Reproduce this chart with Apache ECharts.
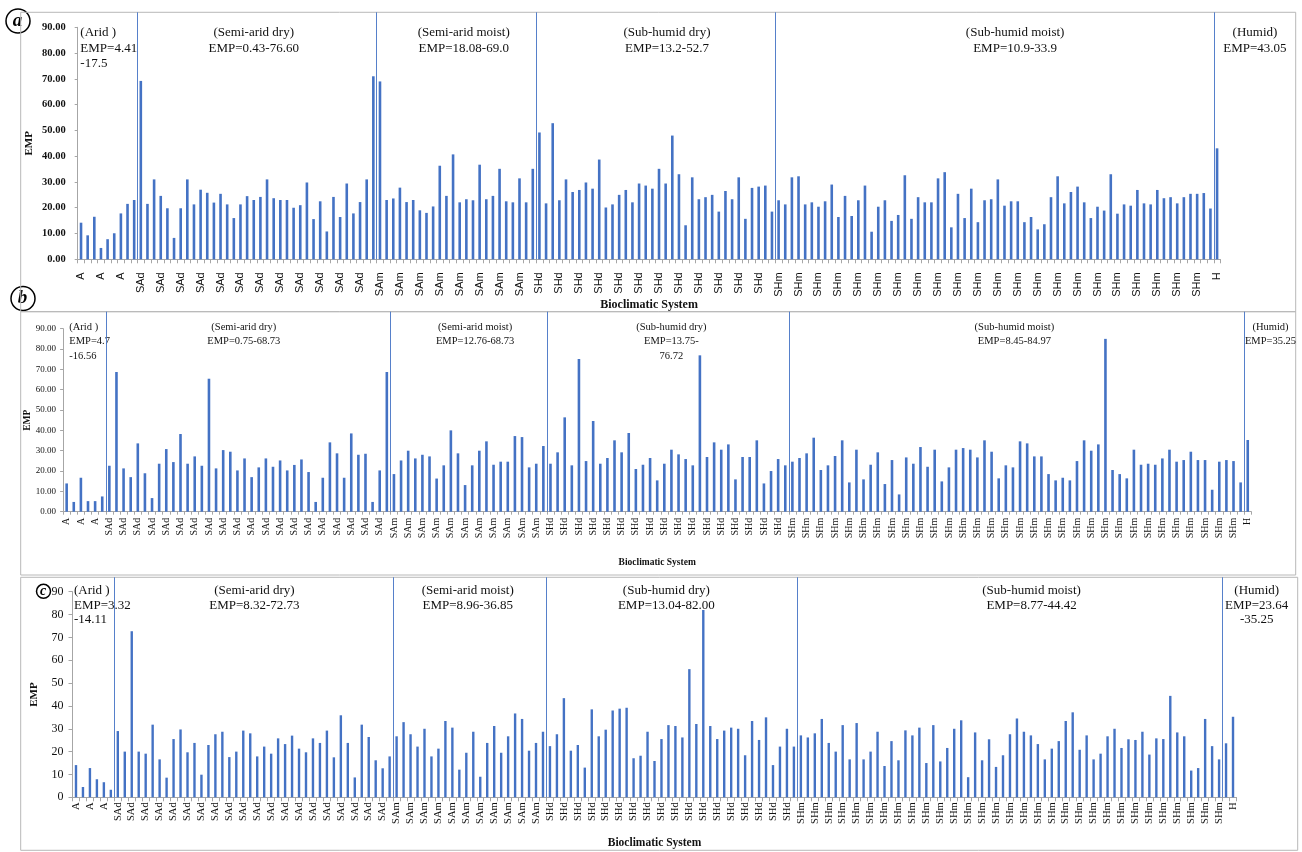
<!DOCTYPE html>
<html><head><meta charset="utf-8">
<script src="https://cdn.jsdelivr.net/npm/echarts@6/dist/echarts.min.js"></script>
<style>html,body{margin:0;padding:0;background:#fff}#c{width:1302px;height:852px}</style>
</head><body><div id="c"></div>
<script>
// ---------- DATA ----------
const groupsA = [['A',9],['SAd',36],['SAm',24],['SHd',36],['SHm',66],['H',1]];
const groupsB = [['A',6],['SAd',40],['SAm',22],['SHd',34],['SHm',64],['H',1]];
const groupsC = [['A',6],['SAd',40],['SAm',22],['SHd',36],['SHm',61],['H',2]];

const valuesA = [
  14.2, 9.3, 16.5, 4.4, 7.8, 10.1, 17.8, 21.5, 23.0,
  69.2, 21.5, 31.0, 24.6, 19.8, 8.3, 19.8, 31.0, 21.3, 27.0, 25.8, 22.0, 25.4, 21.3, 16.0, 21.3, 24.5, 23.0,
  24.2, 31.0, 23.7, 23.0, 23.0, 20.0, 21.0, 29.8, 15.6, 22.5, 10.8, 24.2, 16.4, 29.4, 17.8, 22.2, 31.0, 71.0,
  69.0, 23.0, 23.6, 27.8, 22.2, 23.0, 19.0, 18.0, 20.5, 36.3, 24.6, 40.7, 22.1, 23.3, 22.9, 36.7, 23.3, 24.6,
  35.1, 22.5, 22.1, 31.4, 22.1, 35.1,
  49.2, 21.7, 52.8, 22.9, 31.0, 26.1, 26.9, 29.8, 27.4, 38.7, 20.1, 21.3, 25.0, 26.9, 22.1, 29.4, 28.6, 27.4,
  35.1, 29.4, 48.0, 33.0, 13.2, 31.8, 23.3, 24.1, 25.0, 18.5, 26.5, 23.3, 31.8, 15.7, 27.7, 28.2, 28.6, 18.5,
  22.9, 21.3, 31.8, 32.2, 21.3, 22.1, 20.4, 22.5, 29.0, 16.4, 24.6, 16.8, 22.9, 28.6, 10.7, 20.4, 22.9, 14.9,
  17.2, 32.6, 15.7, 24.1, 22.1, 22.1, 31.4, 33.8, 12.4, 25.4, 16.0, 27.4, 14.4, 22.9, 23.3, 31.0, 20.8, 22.5,
  22.5, 14.4, 16.4, 11.6, 13.6, 24.1, 32.2, 21.7, 26.1, 28.2, 22.1, 16.0, 20.4, 18.9, 33.0, 17.7, 21.3, 20.8,
  26.9, 21.7, 21.3, 26.9, 23.7, 24.1, 21.7, 24.1, 25.4, 25.4, 25.7, 19.7,
  43.05
];
const valuesB = [
  13.9, 4.8, 16.7, 5.2, 5.2, 7.5,
  22.6, 68.7, 21.3, 17.0, 33.6, 18.9, 6.7, 23.6, 30.8, 24.4, 38.2, 23.6, 27.2, 22.6, 65.4, 21.3, 30.3, 29.5,
  20.3, 26.2, 17.0, 21.8, 26.2, 22.1, 25.2, 20.3, 23.0, 25.7, 19.5, 4.8, 16.7, 34.1, 28.7, 16.7, 38.5, 28.0,
  28.5, 4.8, 20.3, 68.7,
  18.5, 25.2, 30.0, 26.2, 28.0, 27.2, 16.3, 22.8, 40.0, 28.7, 13.1, 22.8, 30.0, 34.6, 23.1, 24.6, 24.6, 37.2,
  36.7, 21.8, 23.6, 32.3,
  23.6, 29.2, 46.4, 22.8, 75.1, 24.9, 44.6, 23.6, 26.4, 35.1, 29.2, 38.7, 21.0, 23.1, 26.4, 15.4, 23.6, 30.5,
  28.2, 25.9, 22.8, 76.9, 26.9, 34.1, 30.5, 33.1, 15.9, 26.9, 26.9, 35.1, 13.9, 20.0, 25.9, 22.8,
  24.6, 26.4, 28.7, 36.4, 20.5, 22.8, 27.4, 35.1, 14.4, 30.5, 15.9, 23.1, 29.2, 13.6, 25.4, 8.5, 26.7, 23.6,
  31.8, 22.1, 30.5, 14.9, 21.8, 30.5, 31.3, 30.5, 26.7, 35.1, 29.5, 16.4, 22.8, 21.8, 34.6, 33.6, 27.2, 27.2,
  18.5, 15.4, 16.7, 15.4, 24.9, 35.1, 30.0, 33.1, 85.0, 20.5, 18.5, 16.4, 30.5, 23.1, 23.6, 23.1, 26.2, 30.5,
  24.6, 25.4, 29.5, 25.4, 25.4, 10.8, 24.6, 25.4, 24.9, 14.4,
  35.25
];
const valuesC = [
  14.1, 4.5, 12.8, 7.9, 6.6, 3.3,
  29.0, 20.0, 72.7, 20.0, 19.1, 31.8, 16.6, 8.6, 25.5, 29.7, 19.7, 23.8, 9.9, 22.9, 27.6, 28.7, 17.6, 20.0,
  29.2, 28.0, 17.9, 22.2, 19.1, 25.8, 23.3, 27.0, 21.3, 19.7, 25.8, 23.8, 29.2, 17.5, 35.9, 23.8, 8.7, 31.8,
  26.4, 16.2, 12.7, 17.9,
  26.7, 32.9, 27.6, 22.2, 30.0, 17.9, 21.3, 33.4, 30.5, 12.1, 19.5, 28.7, 9.0, 23.8, 31.2, 19.5, 26.7, 36.7,
  34.3, 20.4, 23.8, 28.7,
  22.4, 27.6, 43.4, 20.4, 22.9, 13.0, 38.5, 26.7, 29.6, 38.0, 38.8, 39.2, 17.1, 18.2, 28.7, 15.9, 25.5, 31.6,
  31.2, 26.2, 56.1, 32.1, 82.0, 31.2, 25.5, 29.2, 30.5, 30.0, 18.4, 33.4, 25.1, 35.0, 14.1, 22.2, 30.0, 22.2,
  27.1, 26.2, 28.0, 34.3, 23.8, 20.0, 31.6, 16.6, 32.5, 16.6, 20.0, 28.7, 13.7, 24.6, 16.2, 29.3, 27.1, 30.5,
  15.0, 31.6, 15.7, 21.6, 30.0, 33.7, 8.8, 28.4, 16.2, 25.4, 13.3, 18.4, 27.6, 34.5, 28.7, 27.1, 23.3, 16.6,
  21.3, 24.6, 33.4, 37.2, 20.8, 27.1, 16.6, 19.1, 26.7, 30.0, 21.6, 25.4, 25.1, 28.7, 18.7, 25.8, 25.5, 44.4,
  28.4, 26.7, 11.7, 12.8, 34.3, 22.4, 16.6,
  23.64, 35.25
];

const notesA = ['(Arid )\nEMP=4.41\n-17.5', '(Semi-arid dry)\nEMP=0.43-76.60', '(Semi-arid moist)\nEMP=18.08-69.0',
  '(Sub-humid dry)\nEMP=13.2-52.7', '(Sub-humid moist)\nEMP=10.9-33.9', '(Humid)\nEMP=43.05'];
const notesB = ['(Arid )\nEMP=4.7\n-16.56', '(Semi-arid dry)\nEMP=0.75-68.73', '(Semi-arid moist)\nEMP=12.76-68.73',
  '(Sub-humid dry)\nEMP=13.75-\n76.72', '(Sub-humid moist)\nEMP=8.45-84.97', '(Humid)\nEMP=35.25'];
const notesC = ['(Arid )\nEMP=3.32\n-14.11', '(Semi-arid dry)\nEMP=8.32-72.73', '(Semi-arid moist)\nEMP=8.96-36.85',
  '(Sub-humid dry)\nEMP=13.04-82.00', '(Sub-humid moist)\nEMP=8.77-44.42', '(Humid)\nEMP=23.64\n-35.25'];

const yTicksAB = { min: 0, max: 90, interval: 10 };
const xTitle = 'Bioclimatic System';
const yTitle = 'EMP';
const panelLetters = ['a', 'b', 'c'];

// ---------- HELPERS ----------
function expand(groups) { const out = []; groups.forEach(([c, n]) => { for (let i = 0; i < n; i++) out.push(c); }); return out; }
function bounds(groups) { const out = []; let s = 0; groups.slice(0, -1).forEach(([, n]) => { s += n; out.push(s - 0.5); }); return out; }

const SERIF = "'Liberation Serif','Times New Roman',serif";
const SANS = "'Liberation Sans',Arial,sans-serif";
const BLUE = '#4472C4';
const AX = '#a6a6a6';
const TXT = '#111';

// ---------- LAYOUT (positions/sizes/styles) ----------
const panels = [
  { groups: groupsA, vals: valuesA, notes: notesA,
    grid: { left: 77.7, top: 27.3, width: 1142.7, height: 232 }, frameTop: 12.3,
    frame: [20.7, 12.3, 1275, 299.4],
    yFmt: v => v.toFixed(2), yFont: { fontFamily: SERIF, fontWeight: 'bold', fontSize: 10.5 }, yMargin: 12, yTick: 3,
    xFont: { fontFamily: SANS, fontSize: 11 }, xInterval: 2, xMargin: 13, xTick: 4,
    xName: { gap: 40, size: 12 }, yName: { gap: 43, size: 11 },
    noteFont: 13, noteLH: 15.5, noteTop: 0.052, notePos: [-0.1, 26.0, 57.6, 88.2, 140.6, 176.7],
    barWidth: 2.6, circle: [18, 21, 12, 19] },
  { groups: groupsB, vals: valuesB, notes: notesB,
    grid: { left: 63.1, top: 328.7, width: 1188.2, height: 183 }, frameTop: 311.7,
    frame: [20.7, 311.7, 1275, 263.3],
    yFmt: v => v.toFixed(2), yFont: { fontFamily: SERIF, fontSize: 9 }, yMargin: 7, yTick: 3,
    xFont: { fontFamily: SERIF, fontSize: 10 }, xInterval: 1, xMargin: 6, xTick: 3,
    xName: { gap: 46, size: 9.5 }, yName: { gap: 31, size: 9.5 },
    noteFont: 10.5, noteLH: 14.5, noteTop: 0.039, notePos: [0.37, 24.9, 57.4, 85.0, 133.2, 169.2],
    barWidth: 2.6, circle: [23, 298.5, 12, 19] },
  { groups: groupsC, vals: valuesC, notes: notesC,
    grid: { left: 72.5, top: 591.7, width: 1164, height: 205.6 }, frameTop: 577.3,
    frame: [20.7, 577.3, 1277, 273],
    yFmt: v => String(v), yFont: { fontFamily: SERIF, fontSize: 12 }, yMargin: 9, yTick: 4,
    xFont: { fontFamily: SERIF, fontSize: 10.5 }, xInterval: 1, xMargin: 5, xTick: 4,
    xName: { gap: 40, size: 11.5 }, yName: { gap: 33, size: 11 },
    noteFont: 13, noteLH: 14.5, noteTop: 0.029, notePos: [-0.29, 25.6, 56.2, 84.7, 137.1, 169.4],
    barWidth: 2.4, circle: [43.5, 591.3, 7, 14] }
];

// ---------- OPTION ----------
const grid = [], xAxis = [], yAxis = [], series = [], graphic = [];
panels.forEach((p, i) => {
  const cats = expand(p.groups);
  grid.push(Object.assign({ outerBoundsMode: 'none', containLabel: false }, p.grid));
  xAxis.push({
    type: 'category', gridIndex: i, data: cats,
    axisLine: { show: true, lineStyle: { color: AX, width: 1 } },
    axisTick: { show: true, interval: 0, length: p.xTick, lineStyle: { color: AX } },
    axisLabel: Object.assign({ interval: p.xInterval, rotate: 90, margin: p.xMargin, color: TXT }, p.xFont),
    splitLine: { show: false },
    name: xTitle, nameLocation: 'middle', nameGap: p.xName.gap, nameMoveOverlap: false,
    nameTextStyle: { fontFamily: SERIF, fontWeight: 'bold', fontSize: p.xName.size, color: TXT }
  });
  yAxis.push({
    type: 'value', gridIndex: i, min: yTicksAB.min, max: yTicksAB.max, interval: yTicksAB.interval,
    axisLine: { show: true, lineStyle: { color: AX, width: 1 } },
    axisTick: { show: true, length: p.yTick, lineStyle: { color: AX } },
    axisLabel: Object.assign({ formatter: p.yFmt, margin: p.yMargin, color: TXT }, p.yFont),
    splitLine: { show: false },
    name: yTitle, nameLocation: 'middle', nameGap: p.yName.gap, nameMoveOverlap: false,
    nameTextStyle: { fontFamily: SERIF, fontWeight: 'bold', fontSize: p.yName.size, color: TXT }
  });
  series.push({
    type: 'bar', xAxisIndex: i, yAxisIndex: i, data: p.vals, barWidth: p.barWidth,
    itemStyle: { color: BLUE }, silent: true
  });
  graphic.push({ type: 'rect', silent: true, z: 1,
    shape: { x: p.frame[0], y: p.frame[1], width: p.frame[2], height: p.frame[3] },
    style: { fill: 'none', stroke: '#b8b8b8', lineWidth: 1 } });
});
panels.forEach((p, i) => {
  const N = expand(p.groups).length;
  const gi = 3 + i;
  const base = p.grid.top + p.grid.height;
  grid.push({ outerBoundsMode: 'none', containLabel: false, left: p.grid.left, width: p.grid.width, top: p.frameTop, height: base - p.frameTop });
  xAxis.push({ type: 'value', gridIndex: gi, min: -0.5, max: N - 0.5, show: false });
  yAxis.push({ type: 'value', gridIndex: gi, min: 0, max: 1, inverse: true, show: false });
  series.push({
    type: 'scatter', xAxisIndex: gi, yAxisIndex: gi, clip: false, symbolSize: 1, silent: true,
    itemStyle: { color: 'rgba(0,0,0,0)' },
    labelLayout: { hideOverlap: false },
    label: { show: true, position: 'inside', verticalAlign: 'top', opacity: 1, fontFamily: SERIF, fontSize: p.noteFont, lineHeight: p.noteLH, color: TXT },
    data: p.notes.map((t, k) => ({ value: [p.notePos[k], p.noteTop], label: { formatter: t, align: k === 0 ? 'left' : 'center' } })),
    markLine: { symbol: 'none', silent: true, label: { show: false },
      lineStyle: { color: BLUE, width: 1, type: 'solid', opacity: 0.9 },
      emphasis: { disabled: true },
      data: bounds(p.groups).map(b => ({ xAxis: b })) }
  });
  const [cx, cy, r, fs] = p.circle;
  graphic.push({ type: 'group', z: 100, silent: true, children: [
    { type: 'circle', shape: { cx, cy, r }, style: { fill: '#fff', stroke: '#000', lineWidth: 1.5 } },
    { type: 'text', style: { text: panelLetters[i], x: cx - 0.5, y: cy, align: 'center', verticalAlign: 'middle',
        textAlign: 'center', textVerticalAlign: 'middle', fill: '#000',
        font: 'italic bold ' + fs + 'px ' + SERIF } }
  ]});
});

const chart = echarts.init(document.getElementById('c'), null, { renderer: 'canvas' });
chart.setOption({ animation: false, backgroundColor: '#fff', grid, xAxis, yAxis, series, graphic });
</script></body></html>
